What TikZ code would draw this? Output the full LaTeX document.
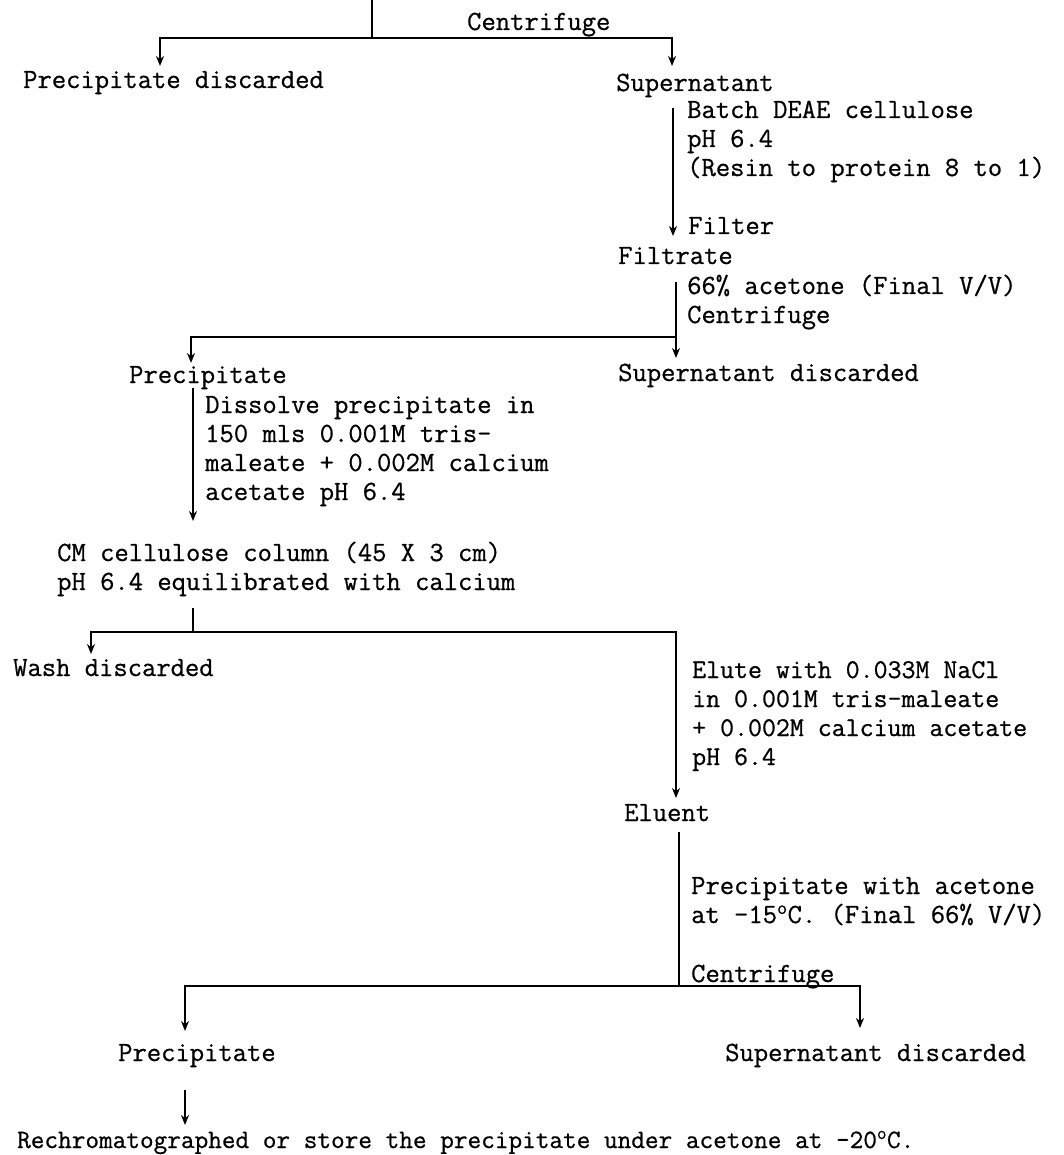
\documentclass[tikz,border=0pt]{standalone}
\usepackage{fontspec}
\newfontfamily\tw{lmmono12-regular.otf}[FakeBold=0.7]
\usetikzlibrary{arrows.meta}
\begin{document}
\begin{tikzpicture}[x=1pt,y=-1pt,
  txt/.style={anchor=base west, inner sep=0pt, font=\tw\fontsize{27.8}{29}\selectfont},
  ln/.style={line width=1.8pt},
  arr/.style={ln, -{Stealth[length=10pt,width=8pt]}}]
\fill[white] (0,0) rectangle (1064,1155);
\useasboundingbox (0,0) rectangle (1064,1155);

% text nodes
\node[txt] (cen1) at (467,30) {Centrifuge};
\node[txt] (pd1) at (23,88) {Precipitate discarded};
\node[txt] (sup1) at (616,91) {Supernatant};
\node[txt] (batch) at (687,118) {\begin{tabular}[t]{@{}l@{}}Batch DEAE cellulose\\pH 6.4\\(Resin to protein 8 to 1)\end{tabular}};
\node[txt] (filter) at (688,234) {Filter};
\node[txt] (filtrate) at (618,264) {Filtrate};
\node[txt] (acet) at (687,294) {\begin{tabular}[t]{@{}l@{}}66\% acetone (Final V/V)\\Centrifuge\end{tabular}};
\node[txt] (sd1) at (618,381) {Supernatant discarded};
\node[txt] (prec1) at (129,383) {Precipitate};
\node[txt] (diss) at (205,413) {\begin{tabular}[t]{@{}l@{}}Dissolve precipitate in\\150 mls 0.001M tris-\\maleate + 0.002M calcium\\acetate pH 6.4\end{tabular}};
\node[txt] (cm) at (57,561) {\begin{tabular}[t]{@{}l@{}}CM cellulose column (45 X 3 cm)\\pH 6.4 equilibrated with calcium\end{tabular}};
\node[txt] (wash) at (13,676) {Wash discarded};
\node[txt, font=\tw\fontsize{27.1}{29}\selectfont] (elute) at (692,678) {\begin{tabular}[t]{@{}l@{}}Elute with 0.033M NaCl\\in 0.001M tris-maleate\\+ 0.002M calcium acetate\\pH 6.4\end{tabular}};
\node[txt] (eluent) at (624,821) {Eluent};
\node[txt] (pwa) at (691,894) {\begin{tabular}[t]{@{}l@{}}Precipitate with acetone\\at -15\textsuperscript{o}C. (Final 66\% V/V)\end{tabular}};
\node[txt] (cen2) at (691,982) {Centrifuge};
\node[txt] (prec2) at (118,1061) {Precipitate};
\node[txt] (sd2) at (725,1061) {Supernatant discarded};
\node[txt, font=\tw\fontsize{26.5}{29}\selectfont] (rech) at (17,1148) {Rechromatographed or store the precipitate under acetone at -20\textsuperscript{o}C.};

% connector points
\coordinate (top) at (372,0);
\coordinate (j1) at (372,38);
\coordinate (l1e) at (160,66);
\coordinate (r1e) at (672,66);
\coordinate (s1) at (673,108);
\coordinate (s2) at (673,236);
\coordinate (f1) at (676,282);
\coordinate (fj) at (676,337);
\coordinate (f2) at (676,358);
\coordinate (p1e) at (191,363);
\coordinate (p1a) at (193,388);
\coordinate (p1b) at (193,521);
\coordinate (c1) at (193,608);
\coordinate (cj) at (193,632);
\coordinate (we) at (91,654);
\coordinate (ee) at (676,798);
\coordinate (e1) at (679,832);
\coordinate (ej) at (679,986);
\coordinate (pe2) at (185,1031);
\coordinate (se2) at (860,1028);
\coordinate (b1) at (185,1090);
\coordinate (b2) at (185,1125);

% connectors
\draw[ln] (top) -- (j1);
\draw[arr] (j1) -| (l1e);
\draw[arr] (j1) -| (r1e);
\draw[arr] (s1) -- (s2);
\draw[arr] (f1) -- (f2);
\draw[arr] (fj) -| (p1e);
\draw[arr] (p1a) -- (p1b);
\draw[ln] (c1) -- (cj);
\draw[arr] (cj) -| (we);
\draw[arr] (cj) -| (ee);
\draw[ln] (e1) -- (ej);
\draw[arr] (ej) -| (pe2);
\draw[arr] (ej) -| (se2);
\draw[arr] (b1) -- (b2);
\end{tikzpicture}
\end{document}
